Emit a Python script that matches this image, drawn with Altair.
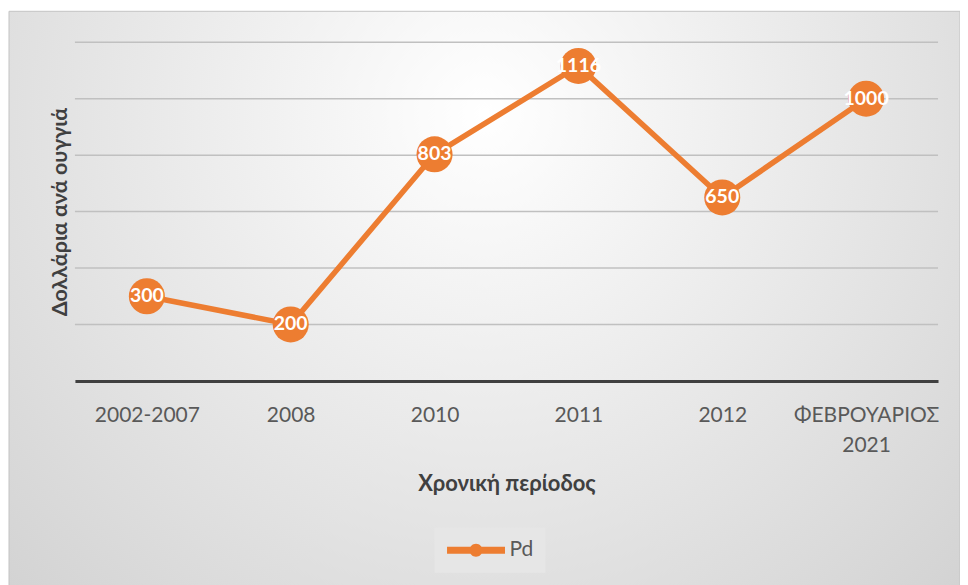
import altair as alt
import pandas as pd

periods = ["2002-2007", "2008", "2010", "2011", "2012", "ΦΕΒΡΟΥΆΡΙΟΣ\n2021"]
prices = [300, 200, 803, 1116, 650, 1000]
series = ["Pd"] * len(periods)
grid_values = [200, 400, 600, 800, 1000, 1200]

df = pd.DataFrame({"period": periods, "price": prices, "series": series})
grid_df = pd.DataFrame({"price": grid_values})
bg_df = pd.DataFrame({"k": [0]})

ORANGE = "#ED7D31"
FONT = "Lato"
W, H = 864, 339
PL, PT, PR, PB = 67, 34, 22, 204

bg = alt.Chart(bg_df).mark_rect(
    color=alt.Gradient(
        gradient="radial",
        x1=0.5, y1=0.3, r1=0.0,
        x2=0.5, y2=0.3, r2=0.8,
        stops=[alt.GradientStop(offset=0, color="#ffffff"),
               alt.GradientStop(offset=1, color="#cdcdcd")],
    ),
    stroke="#c4c4c4",
    strokeWidth=1,
).encode(
    x=alt.value(-PL + 1), x2=alt.value(W + PR),
    y=alt.value(-PT + 3), y2=alt.value(H + PB + 10),
)

xenc = alt.X(
    "period:O", sort=None,
    scale=alt.Scale(padding=0.5),
    axis=alt.Axis(
        title="Χρονική περίοδος", grid=False, ticks=False,
        domainColor="#404040", domainWidth=3,
        labelAngle=0, labelFont=FONT, labelFontSize=21, labelColor="#595959",
        labelPadding=24, labelLineHeight=30,
        labelExpr="split(datum.label, '\\n')",
        titleFont=FONT, titleFontSize=22, titleFontWeight="bold", titleColor="#404040",
        titlePadding=18, zindex=1,
    ),
)
yenc = alt.Y(
    "price:Q",
    scale=alt.Scale(domain=[0, 1200], nice=False),
    axis=alt.Axis(
        title="Δολλάρια ανά ουγγιά", labels=False, ticks=False, domain=False, grid=False,
        titleFont=FONT, titleFontSize=21.5, titleFontWeight="bold", titleColor="#404040",
        titlePadding=3, zindex=1,
    ),
)

grid = alt.Chart(grid_df).mark_rule(color="#c0c0c0", strokeWidth=1.5).encode(y=yenc)

base = alt.Chart(df)
line = base.mark_line(color=ORANGE, strokeWidth=5.5).encode(x=xenc, y=yenc)

legend_path = ("M-1,-0.35H4.8V0.35H-1Z "
               "M1.25,0A0.65,0.65,0,1,1,2.55,0A0.65,0.65,0,1,1,1.25,0Z")
points = base.mark_point(filled=True, size=1300, opacity=1).encode(
    x=xenc, y=yenc,
    color=alt.Color(
        "series:N",
        scale=alt.Scale(range=[ORANGE]),
        legend=alt.Legend(
            title=None, orient="none", legendX=360, legendY=486,
            symbolType=legend_path, symbolSize=400, symbolOpacity=1,
            symbolStrokeWidth=0,
            labelFont=FONT, labelFontSize=21, labelColor="#595959", labelOffset=42,
            padding=12, fillColor="#e6e6e6", zindex=1,
        ),
    ),
)
labels = base.mark_text(color="white", font=FONT, fontSize=19.5, fontWeight="bold",
                        align="center", baseline="middle").encode(
    x=xenc, y=yenc, text=alt.Text("price:Q"),
)

chart = alt.layer(bg, grid, line, points, labels).properties(
    width=W, height=H,
    padding={"left": PL, "top": PT, "right": PR, "bottom": PB},
    autosize=alt.AutoSizeParams(type="none"),
).configure_view(stroke=None).configure(background="#ffffff")

chart.save("out.html", embed_options={"renderer": "svg", "actions": False})
